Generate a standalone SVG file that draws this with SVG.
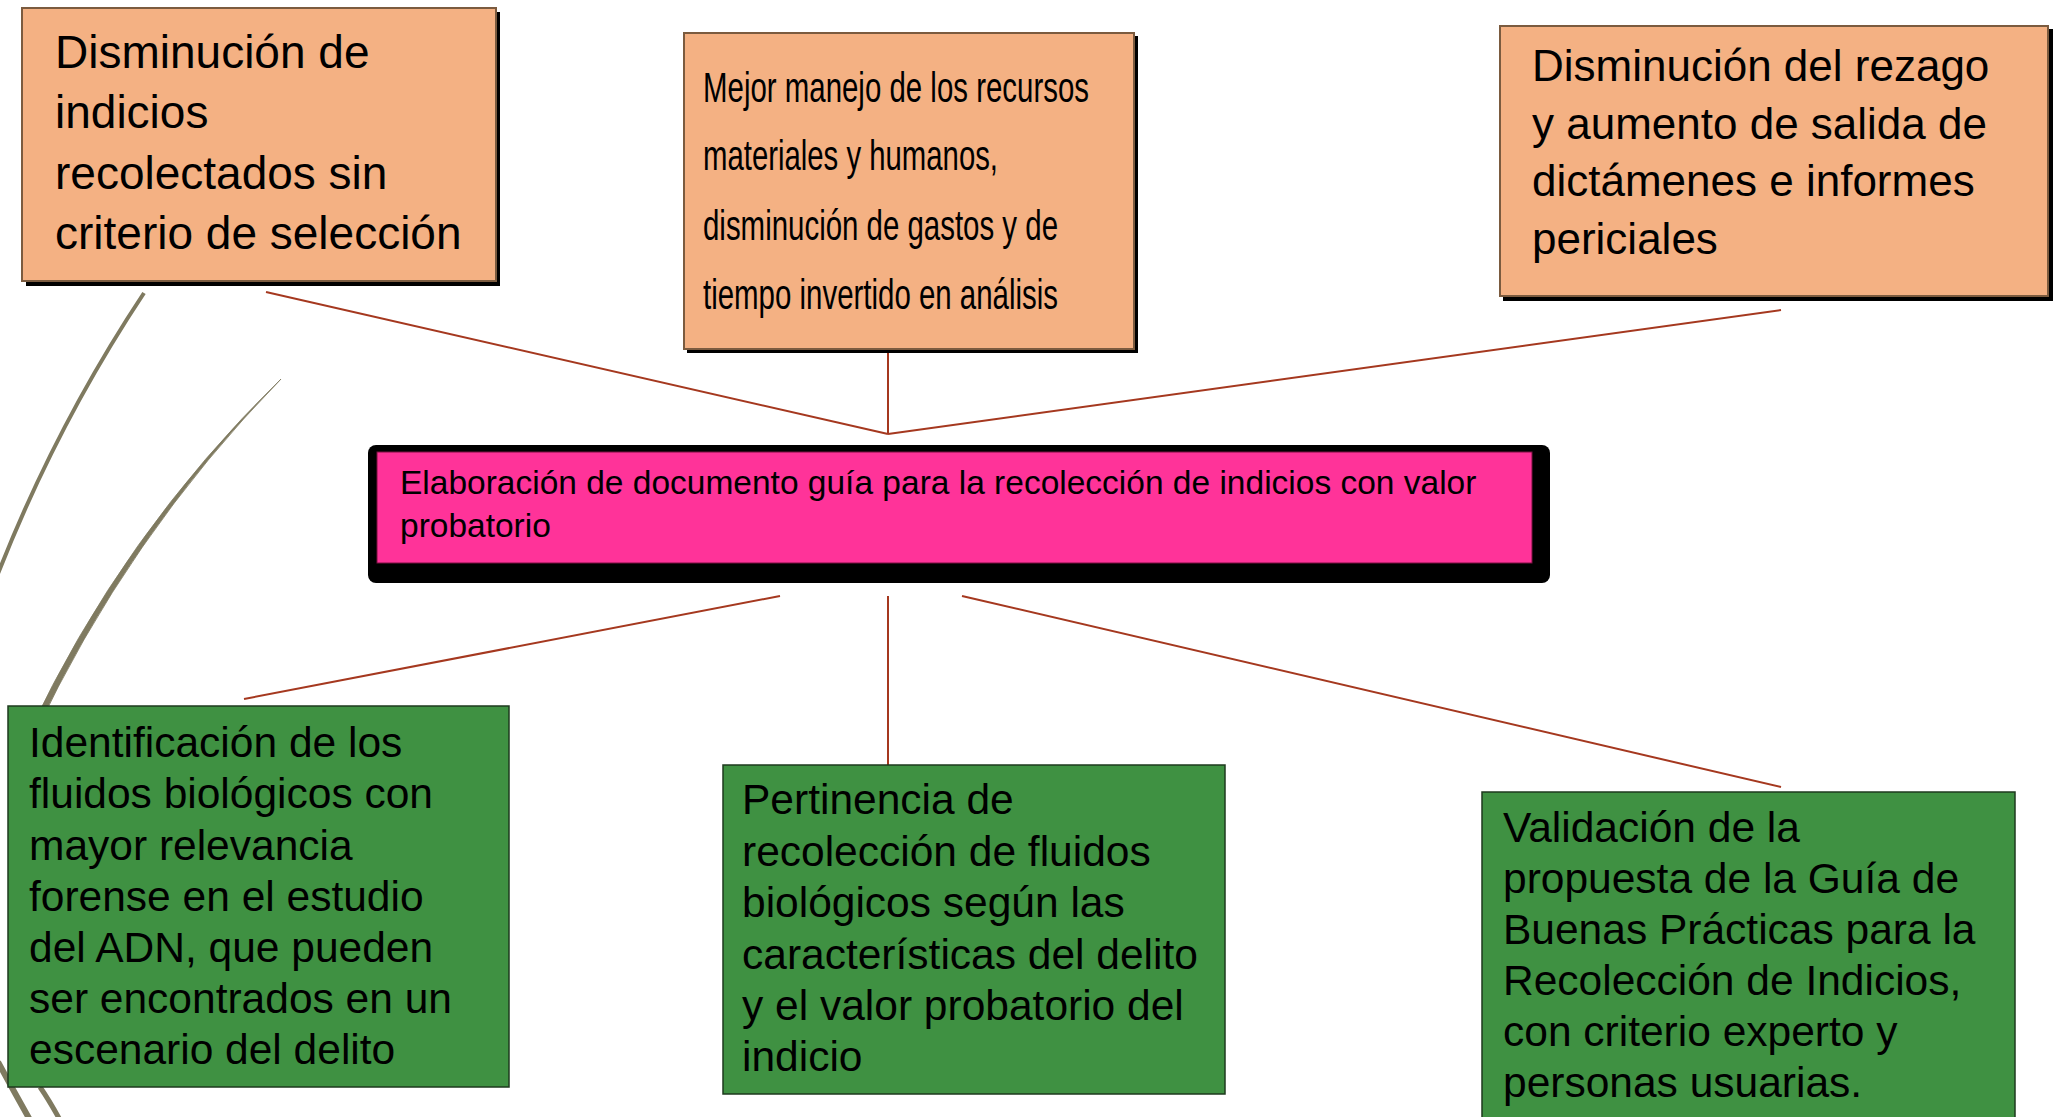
<svg xmlns="http://www.w3.org/2000/svg" width="2053" height="1117" viewBox="0 0 2053 1117">
<style>
.orange{fill:#F4B183;stroke:#7B5B3F;stroke-width:2}
.shadow{fill:#000}
.green{fill:#3F9142;stroke:#1E3A1E;stroke-width:1.5}
.conn{stroke:#A5381F;stroke-width:2;fill:none}
.deco{stroke:#7F7A60;fill:none}
.t{font-family:"Liberation Sans",Arial,sans-serif;fill:#000}
.t46{font-size:46px}
.t44{font-size:44px}
.t42{font-size:42.5px}
.t33{font-size:33.5px}
</style>
<rect width="2053" height="1117" fill="#fff"/>
<g id="decoration">
<path class="deco" stroke-width="4" d="M144,293 Q48.2,437.4 -12,600"/>
<path fill="#7F7A60" stroke="#7F7A60" stroke-width="0.8" d="M281,379 Q121.9,533.8 28,735 L34,736 Q127,537 281,379 Z"/>
<path class="deco" stroke-width="6" d="M-2,1062 Q13,1090 30,1120"/>
<path class="deco" stroke-width="5" d="M40,1087 Q49,1100 60,1120"/>
</g>
<g id="connectors">
<line class="conn" x1="266" y1="292" x2="888" y2="434"/>
<line class="conn" x1="888" y1="352" x2="888" y2="434"/>
<line class="conn" x1="1781" y1="310" x2="888" y2="434"/>
<line class="conn" x1="780" y1="596" x2="244" y2="699"/>
<line class="conn" x1="888" y1="596" x2="888" y2="765"/>
<line class="conn" x1="962" y1="596" x2="1781" y2="787"/>
</g>
<g id="node-disminucion-indicios">
<rect class="shadow" x="26" y="12" width="474" height="274"/>
<rect class="orange" x="22" y="8" width="474" height="273"/>
<text class="t t46"><tspan x="55" y="68">Disminución de</tspan><tspan x="55" y="128">indicios</tspan><tspan x="55" y="189">recolectados sin</tspan><tspan x="55" y="249">criterio de selección</tspan></text>
</g>
<g id="node-mejor-manejo">
<rect class="shadow" x="687" y="36" width="451" height="317"/>
<rect class="orange" x="684" y="33" width="450" height="316"/>
<text class="t" font-size="42"><tspan x="703" y="102" textLength="386" lengthAdjust="spacingAndGlyphs">Mejor manejo de los recursos</tspan><tspan x="703" y="170" textLength="295" lengthAdjust="spacingAndGlyphs">materiales y humanos,</tspan><tspan x="703" y="240" textLength="355" lengthAdjust="spacingAndGlyphs">disminución de gastos y de</tspan><tspan x="703" y="309" textLength="355" lengthAdjust="spacingAndGlyphs">tiempo invertido en análisis</tspan></text>
</g>
<g id="node-disminucion-rezago">
<rect class="shadow" x="1503" y="29" width="550" height="272"/>
<rect class="orange" x="1500" y="26" width="548" height="270"/>
<text class="t t44"><tspan x="1532" y="81">Disminución del rezago</tspan><tspan x="1532" y="139">y aumento de salida de</tspan><tspan x="1532" y="196">dictámenes e informes</tspan><tspan x="1532" y="254">periciales</tspan></text>
</g>
<g id="node-elaboracion">
<rect class="shadow" x="368" y="445" width="1182" height="138" rx="8"/>
<rect x="377" y="452" width="1155" height="111" fill="#FF3399" stroke="#7A1040" stroke-width="1"/>
<text class="t t33"><tspan x="400" y="494">Elaboración de documento guía para la recolección de indicios con valor</tspan><tspan x="400" y="537">probatorio</tspan></text>
</g>
<g id="node-identificacion">
<rect class="green" x="8" y="706" width="501" height="381"/>
<text class="t t42"><tspan x="29" y="757">Identificación de los</tspan><tspan x="29" y="808">fluidos biológicos con</tspan><tspan x="29" y="860">mayor relevancia</tspan><tspan x="29" y="911">forense en el estudio</tspan><tspan x="29" y="962">del ADN, que pueden</tspan><tspan x="29" y="1013">ser encontrados en un</tspan><tspan x="29" y="1064">escenario del delito</tspan></text>
</g>
<g id="node-pertinencia">
<rect class="green" x="723" y="765" width="502" height="329"/>
<text class="t t42"><tspan x="742" y="814">Pertinencia de</tspan><tspan x="742" y="866">recolección de fluidos</tspan><tspan x="742" y="917">biológicos según las</tspan><tspan x="742" y="969">características del delito</tspan><tspan x="742" y="1020">y el valor probatorio del</tspan><tspan x="742" y="1071">indicio</tspan></text>
</g>
<g id="node-validacion">
<rect class="green" x="1482" y="792" width="533" height="340"/>
<text class="t t42"><tspan x="1503" y="842">Validación de la</tspan><tspan x="1503" y="893">propuesta de la Guía de</tspan><tspan x="1503" y="944">Buenas Prácticas para la</tspan><tspan x="1503" y="995">Recolección de Indicios,</tspan><tspan x="1503" y="1046">con criterio experto y</tspan><tspan x="1503" y="1097">personas usuarias.</tspan></text>
</g>
</svg>
